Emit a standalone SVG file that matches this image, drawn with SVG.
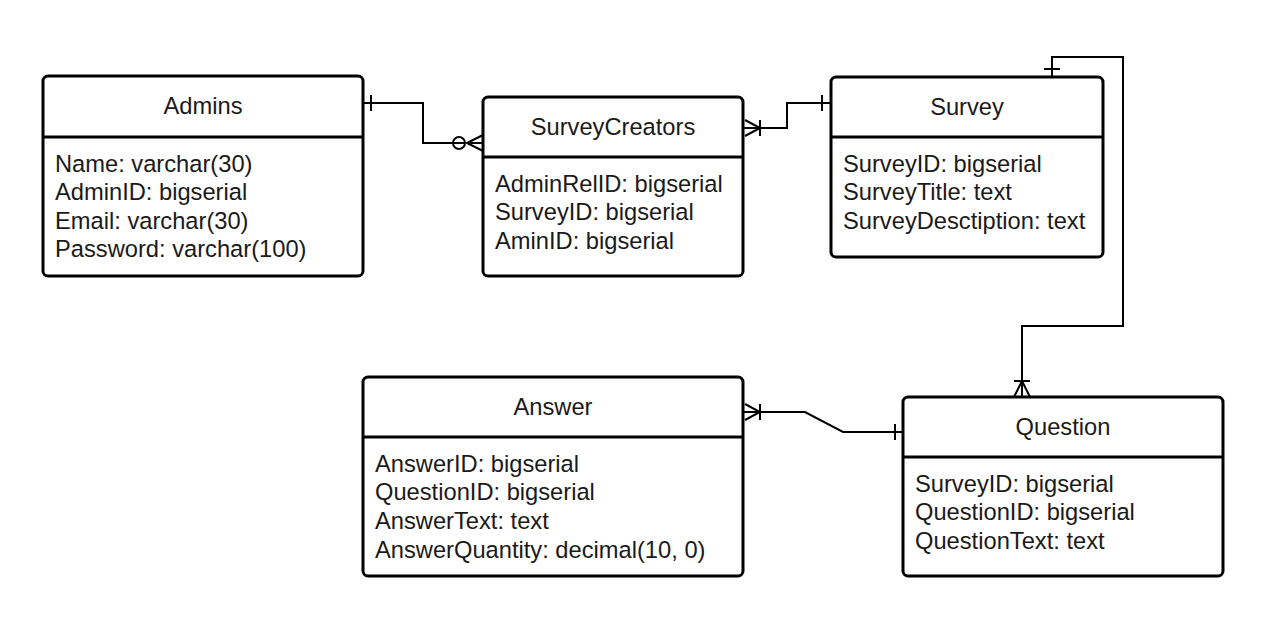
<svg xmlns="http://www.w3.org/2000/svg" width="1264" height="628" viewBox="0 0 1264 628">
<style>
.box{fill:#fff;stroke:#000;stroke-width:3}
.sep{stroke:#000;stroke-width:3}
.t{font-family:"Liberation Sans",Arial,sans-serif;font-size:23.7px;fill:#1a1a1a}
.c{text-anchor:middle}
.ln{fill:none;stroke:#000;stroke-width:2}
</style>
<rect width="1264" height="628" fill="#fff"/>
<g id="connectors">
  <!-- Admins to SurveyCreators -->
  <path class="ln" d="M363 103 H423 V143 H465"/>
  <line class="ln" x1="371" y1="95" x2="371" y2="111"/>
  <circle class="ln" cx="459" cy="143" r="6"/>
  <path class="ln" d="M483 135 L467 143 L483 151 M467 143 H483"/>
  <!-- SurveyCreators to Survey -->
  <path class="ln" d="M743 128 H787 V103 H831"/>
  <path class="ln" d="M745 120 L760 128 L745 136"/>
  <line class="ln" x1="760" y1="120" x2="760" y2="136"/>
  <line class="ln" x1="822" y1="95" x2="822" y2="111"/>
  <!-- Survey to Question -->
  <path class="ln" d="M1052 77 V57 H1123 V326 H1022 V397"/>
  <line class="ln" x1="1044" y1="69" x2="1060" y2="69"/>
  <line class="ln" x1="1014" y1="381" x2="1030" y2="381"/>
  <path class="ln" d="M1014 397 L1022 381 L1030 397"/>
  <!-- Answer to Question -->
  <path class="ln" d="M743 412 H805 L843 432 H903"/>
  <path class="ln" d="M745 404 L760 412 L745 420"/>
  <line class="ln" x1="760" y1="404" x2="760" y2="420"/>
  <line class="ln" x1="895" y1="424" x2="895" y2="440"/>
</g>
<g id="admins">
  <rect class="box" x="43" y="76" width="320" height="200" rx="5"/>
  <line class="sep" x1="43" y1="137" x2="363" y2="137"/>
  <text class="t c" x="203" y="114">Admins</text>
  <text class="t" x="55" y="172">Name: varchar(30)</text>
  <text class="t" x="55" y="200">AdminID: bigserial</text>
  <text class="t" x="55" y="229">Email: varchar(30)</text>
  <text class="t" x="55" y="257">Password: varchar(100)</text>
</g>
<g id="surveycreators">
  <rect class="box" x="483" y="97" width="260" height="179" rx="5"/>
  <line class="sep" x1="483" y1="157" x2="743" y2="157"/>
  <text class="t c" x="613" y="135">SurveyCreators</text>
  <text class="t" x="495" y="192">AdminRelID: bigserial</text>
  <text class="t" x="495" y="220">SurveyID: bigserial</text>
  <text class="t" x="495" y="249">AminID: bigserial</text>
</g>
<g id="survey">
  <rect class="box" x="831" y="77" width="272" height="180" rx="5"/>
  <line class="sep" x1="831" y1="137" x2="1103" y2="137"/>
  <text class="t c" x="967" y="115">Survey</text>
  <text class="t" x="843" y="172">SurveyID: bigserial</text>
  <text class="t" x="843" y="200">SurveyTitle: text</text>
  <text class="t" x="843" y="229">SurveyDesctiption: text</text>
</g>
<g id="answer">
  <rect class="box" x="363" y="377" width="380" height="199" rx="5"/>
  <line class="sep" x1="363" y1="437" x2="743" y2="437"/>
  <text class="t c" x="553" y="415">Answer</text>
  <text class="t" x="375" y="472">AnswerID: bigserial</text>
  <text class="t" x="375" y="500">QuestionID: bigserial</text>
  <text class="t" x="375" y="529">AnswerText: text</text>
  <text class="t" x="375" y="558">AnswerQuantity: decimal(10, 0)</text>
</g>
<g id="question">
  <rect class="box" x="903" y="397" width="320" height="179" rx="5"/>
  <line class="sep" x1="903" y1="457" x2="1223" y2="457"/>
  <text class="t c" x="1063" y="435">Question</text>
  <text class="t" x="915" y="492">SurveyID: bigserial</text>
  <text class="t" x="915" y="520">QuestionID: bigserial</text>
  <text class="t" x="915" y="549">QuestionText: text</text>
</g>
</svg>
